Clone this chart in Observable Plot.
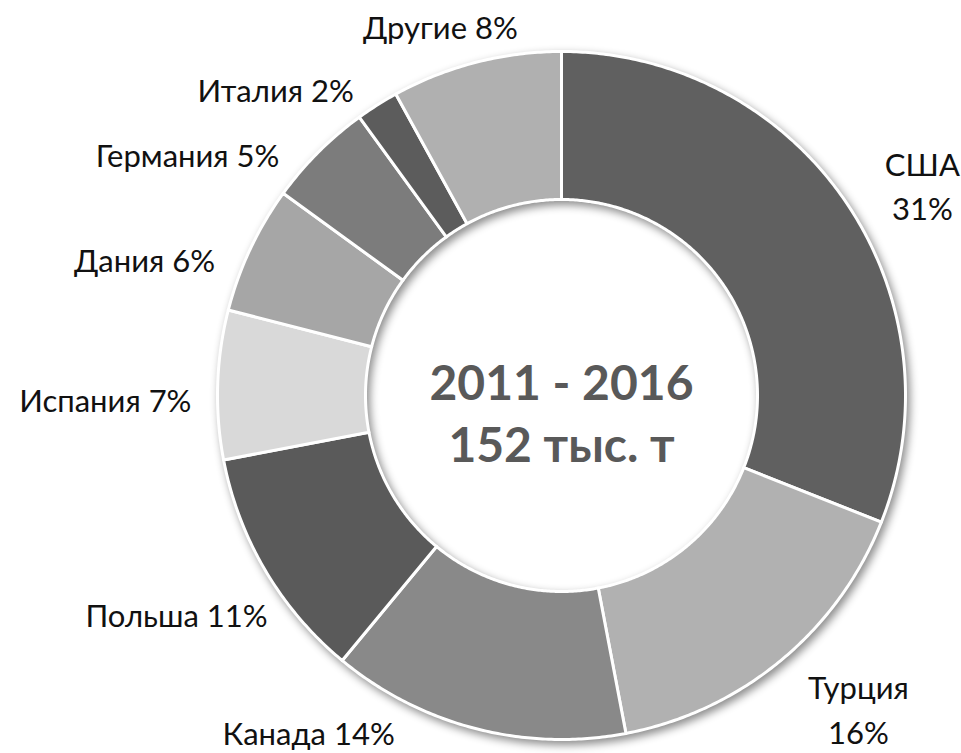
<!DOCTYPE html>
<html><head><meta charset="utf-8">
<script src="https://cdn.jsdelivr.net/npm/d3@7"></script>
<script src="https://cdn.jsdelivr.net/npm/@observablehq/plot@0.6"></script>
<style>
html,body{margin:0;padding:0;background:#fff;}
#chart svg{display:block;}
#chart g[aria-label="line"]{filter:drop-shadow(3px 4px 4px rgba(0,0,0,0.45));}
</style></head><body><div id="chart"></div>
<script>
// ---- data ----
const countries = ["США","Турция","Канада","Польша","Испания","Дания","Германия","Италия","Другие"];
const shares = [31,16,14,11,7,6,5,2,8];
const labels = ["США\n31%","Турция\n16%","Канада 14%","Польша 11%","Испания 7%","Дания 6%","Германия 5%","Италия 2%","Другие 8%"];
const centerLines = ["2011 - 2016","152 тыс. т"];

// ---- style / layout ----
const sliceColors = ["#606060","#b1b1b1","#898989","#5a5a5a","#d9d9d9","#a6a6a6","#7c7c7c","#5c5c5c","#b0b0b0"];
const labelX = [1.049, 0.863, -0.735, -1.119, -1.326, -1.212, -1.087, -0.831, -0.352];
const labelY = [0.616, -0.905, -0.975, -0.631, -0.006, 0.401, 0.706, 0.895, 1.078];
const W = 961, H = 753, CX = 561, CY = 395, R = 344;
const inner = 196 / R;

const arcs = d3.pie().sort(null).value(d => d)(shares);
const pts = [];
arcs.forEach((a, i) => {
  const n = Math.max(8, Math.ceil((a.endAngle - a.startAngle) / (Math.PI / 360)));
  const ring = [];
  for (let k = 0; k <= n; k++) {
    const t = a.startAngle + (a.endAngle - a.startAngle) * k / n;
    ring.push([Math.sin(t), Math.cos(t)]);
  }
  for (let k = n; k >= 0; k--) {
    const t = a.startAngle + (a.endAngle - a.startAngle) * k / n;
    ring.push([inner * Math.sin(t), inner * Math.cos(t)]);
  }
  ring.push(ring[0]);
  ring.forEach(([x, y]) => pts.push({name: countries[i], color: sliceColors[i], x, y}));
});

const labelData = labels.map((t, i) => ({t, x: labelX[i], y: labelY[i]}));

const chart = Plot.plot({
  width: W, height: H,
  margin: 0,
  x: {domain: [-CX / R, (W - CX) / R], axis: null},
  y: {domain: [-(H - CY) / R, CY / R], axis: null},
  color: {type: "identity"},
  marks: [
    Plot.line(pts, {x: "x", y: "y", z: "name", fill: "color", stroke: "white", strokeWidth: 3, strokeLinejoin: "round", curve: "linear"}),
    Plot.text(labelData, {x: "x", y: "y", text: "t", fontFamily: "Lato", fontSize: 31, fill: "#111", lineHeight: 1.45, lineAnchor: "middle"}),
    Plot.text([centerLines.join("\n")], {x: [0], y: [-0.0465], text: d => d, fontFamily: "Lato", fontWeight: "bold", fontSize: 48, fill: "#595959", lineHeight: 1.29, lineAnchor: "middle"})
  ]
});
document.getElementById("chart").appendChild(chart);
</script></body></html>
